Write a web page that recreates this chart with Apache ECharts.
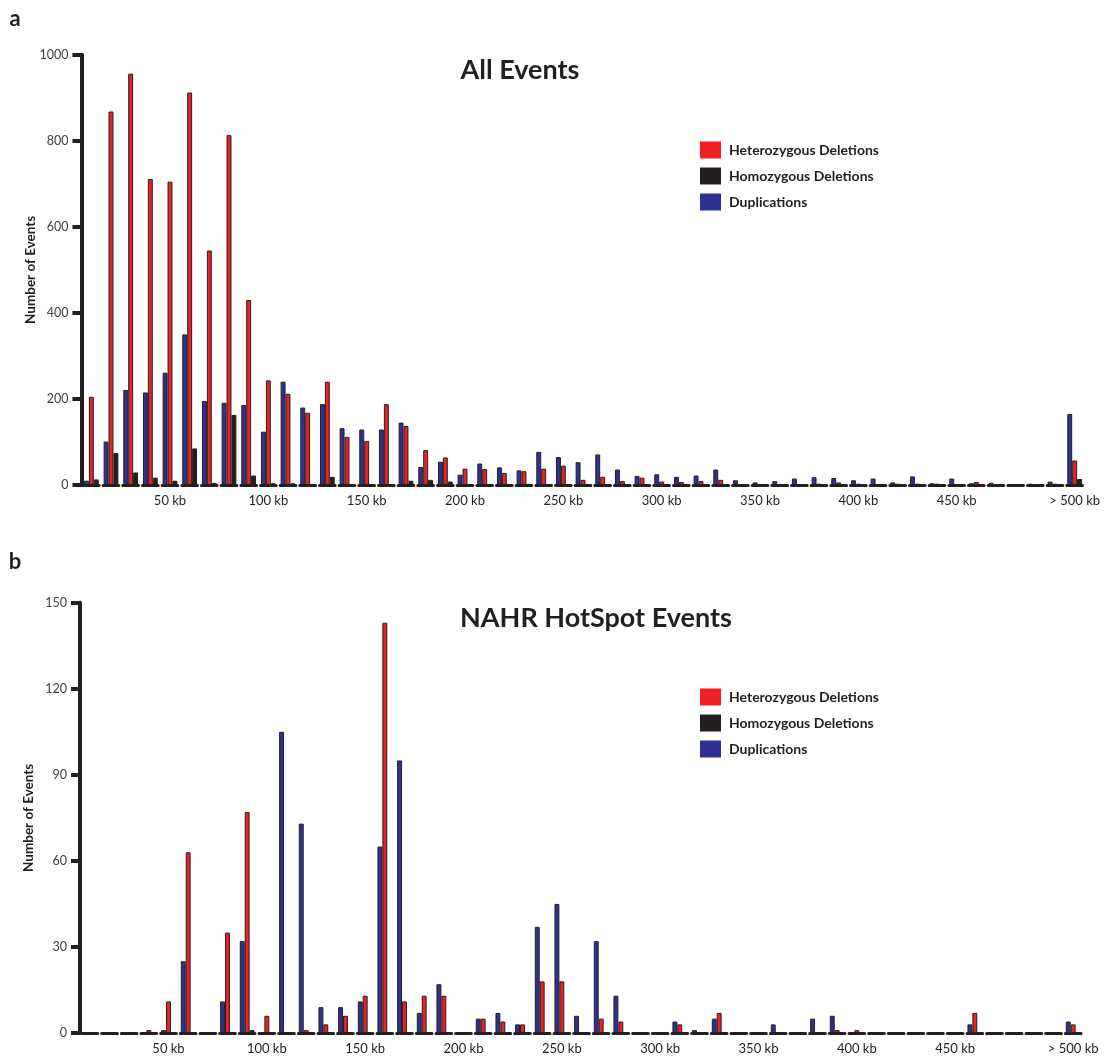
<!DOCTYPE html>
<html>
<head>
<meta charset="utf-8">
<title>CNV size distribution</title>
<script src="https://cdn.jsdelivr.net/npm/echarts@6/dist/echarts.min.js"></script>
<style>
	html, body { margin: 0; padding: 0; background: #fff; }
	#chart { width: 1107px; height: 1057px; }
</style>
</head>
<body>
<div id="chart"></div>
<script>
// ── Data ─────────────────────────────────────────────────────
const sizeBins = [
	"10 kb", "20 kb", "30 kb", "40 kb", "50 kb", "60 kb", "70 kb", "80 kb", "90 kb", "100 kb",
	"110 kb", "120 kb", "130 kb", "140 kb", "150 kb", "160 kb", "170 kb", "180 kb", "190 kb", "200 kb",
	"210 kb", "220 kb", "230 kb", "240 kb", "250 kb", "260 kb", "270 kb", "280 kb", "290 kb", "300 kb",
	"310 kb", "320 kb", "330 kb", "340 kb", "350 kb", "360 kb", "370 kb", "380 kb", "390 kb", "400 kb",
	"410 kb", "420 kb", "430 kb", "440 kb", "450 kb", "460 kb", "470 kb", "480 kb", "490 kb", "500 kb",
	"> 500 kb"
];
const labelledBins = ["50 kb", "100 kb", "150 kb", "200 kb", "250 kb", "300 kb", "350 kb", "400 kb", "450 kb", "> 500 kb"];

// panel a – all events
const allDup = [
	10, 101, 221, 215, 261, 350, 195, 191, 186, 124,
	240, 180, 188, 132, 129, 129, 145, 42, 54, 24,
	50, 41, 34, 77, 65, 53, 71, 36, 21, 25,
	19, 22, 36, 11, 6, 9, 15, 18, 16, 11,
	15, 6, 20, 4, 15, 4, 5, 2, 3, 8,
	165
];
const allHet = [
	205, 868, 956, 711, 705, 912, 545, 813, 430, 243,
	212, 168, 240, 112, 102, 188, 137, 81, 64, 38,
	37, 28, 32, 38, 45, 12, 19, 9, 17, 8,
	7, 9, 12, 2, 2, 0, 2, 3, 6, 3,
	2, 3, 3, 3, 1, 7, 2, 2, 2, 3,
	57
];
const allHom = [
	13, 74, 29, 17, 10, 85, 5, 163, 22, 4,
	4, 0, 19, 0, 0, 0, 10, 12, 8, 0,
	0, 0, 0, 0, 0, 0, 0, 0, 0, 0,
	0, 0, 0, 0, 0, 0, 0, 0, 0, 0,
	0, 0, 0, 0, 0, 0, 0, 0, 0, 0,
	14
];

// panel b – NAHR hotspot events
const hotDup = [
	0, 0, 0, 0, 1, 25, 0, 11, 32, 0,
	105, 73, 9, 9, 11, 65, 95, 7, 17, 0,
	5, 7, 3, 37, 45, 6, 32, 13, 0, 0,
	4, 1, 5, 0, 0, 3, 0, 5, 6, 0,
	0, 0, 0, 0, 0, 3, 0, 0, 0, 0,
	4
];
const hotHet = [
	0, 0, 0, 1, 11, 63, 0, 35, 77, 6,
	0, 1, 3, 6, 13, 143, 11, 13, 13, 0,
	5, 4, 3, 18, 18, 0, 5, 4, 0, 0,
	3, 0, 7, 0, 0, 0, 0, 0, 1, 1,
	0, 0, 0, 0, 0, 7, 0, 0, 0, 0,
	3
];
const hotHom = [
	0, 0, 0, 0, 0, 0, 0, 0, 1, 0,
	0, 0, 0, 0, 0, 0, 0, 0, 0, 0,
	0, 0, 0, 0, 0, 0, 0, 0, 0, 0,
	0, 0, 0, 0, 0, 0, 0, 0, 0, 0,
	0, 0, 0, 0, 0, 0, 0, 0, 0, 0,
	0
];

const seriesNames = ["Duplications", "Heterozygous Deletions", "Homozygous Deletions"];
const legendOrder = ["Heterozygous Deletions", "Homozygous Deletions", "Duplications"];

// ── Styling ──────────────────────────────────────────────────
const INK = "#231f20";
const RED = "#ed2024";
const BLUE = "#2e3192";
const FONT = "Lato, 'Open Sans', sans-serif";

const GRID_W = 1003;
const CAT_W = GRID_W / sizeBins.length;
const DASH = 15.7;              // black base under each group of bars
const baseDash = [DASH, CAT_W - DASH];
const baseOffset = (CAT_W + DASH) / 2;

const showBin = (i, v) => labelledBins.includes(v);

function xAxisFor(gridIndex) {
	return {
		type: "category",
		gridIndex,
		data: sizeBins,
		axisLine: { lineStyle: { color: INK, width: 3, type: baseDash, dashOffset: baseOffset } },
		axisTick: { interval: showBin, alignWithLabel: true, length: 8, lineStyle: { color: INK, width: 2 } },
		axisLabel: { interval: showBin, margin: 9, color: INK, fontFamily: FONT, fontSize: 13 },
		splitLine: { show: false },
	};
}

function yAxisFor(gridIndex, max, interval) {
	return {
		type: "value",
		gridIndex,
		min: 0, max, interval,
		name: "Number of Events",
		nameLocation: "middle",
		nameGap: 44,
		nameMoveOverlap: false,
		nameTextStyle: { color: INK, fontFamily: FONT, fontWeight: "bold", fontSize: 13.5 },
		axisLine: { show: true, lineStyle: { color: INK, width: 4 } },
		axisTick: { show: true, length: 9, lineStyle: { color: INK, width: 4 } },
		axisLabel: { margin: 13, color: "#414042", fontFamily: FONT, fontSize: 12.5, formatter: v => String(v) },
		splitLine: { show: false },
	};
}

function barSeries(name, data, color, axisIndex) {
	return {
		type: "bar", name, data,
		xAxisIndex: axisIndex, yAxisIndex: axisIndex,
		barGap: "0%", barCategoryGap: "25%",
		itemStyle: { color, borderColor: INK, borderWidth: 1 },
		emphasis: { disabled: true },
	};
}

function legendFor(top) {
	return {
		data: legendOrder,
		orient: "vertical",
		left: 700, top,
		padding: 0,
		icon: "rect",
		itemWidth: 21, itemHeight: 17, itemGap: 9,
		itemStyle: { borderWidth: 0 },
		textStyle: { color: INK, fontFamily: FONT, fontWeight: "bold", fontSize: 14, padding: [0, 0, 0, 3] },
		selectedMode: false,
	};
}

function label(text, x, y, size) {
	return {
		type: "text", x, y,
		style: { text, align: "center", verticalAlign: "middle", fill: INK, font: `bold ${size}px ${FONT}` },
	};
}

const option = {
	animation: false,
	backgroundColor: "#fff",
	grid: [
		{ left: 81.5, top: 54.7, width: GRID_W, height: 430.3 },
		{ left: 80, top: 602.7, width: GRID_W, height: 430.3 },
	],
	xAxis: [xAxisFor(0), xAxisFor(1)],
	yAxis: [yAxisFor(0, 1000, 200), yAxisFor(1, 150, 30)],
	legend: [legendFor(141.5), legendFor(688.5)],
	series: [
		barSeries(seriesNames[0], allDup, BLUE, 0),
		barSeries(seriesNames[1], allHet, RED, 0),
		barSeries(seriesNames[2], allHom, INK, 0),
		barSeries(seriesNames[0], hotDup, BLUE, 1),
		barSeries(seriesNames[1], hotHet, RED, 1),
		barSeries(seriesNames[2], hotHom, INK, 1),
	],
	graphic: [
		label("a", 15, 19, 22),
		label("b", 15, 562, 22),
		label("All Events", 520, 70, 27),
		label("NAHR HotSpot Events", 596, 618, 27),
	],
};

const chart = echarts.init(document.getElementById("chart"), null, { renderer: "canvas" });
chart.setOption(option);
</script>
</body>
</html>
